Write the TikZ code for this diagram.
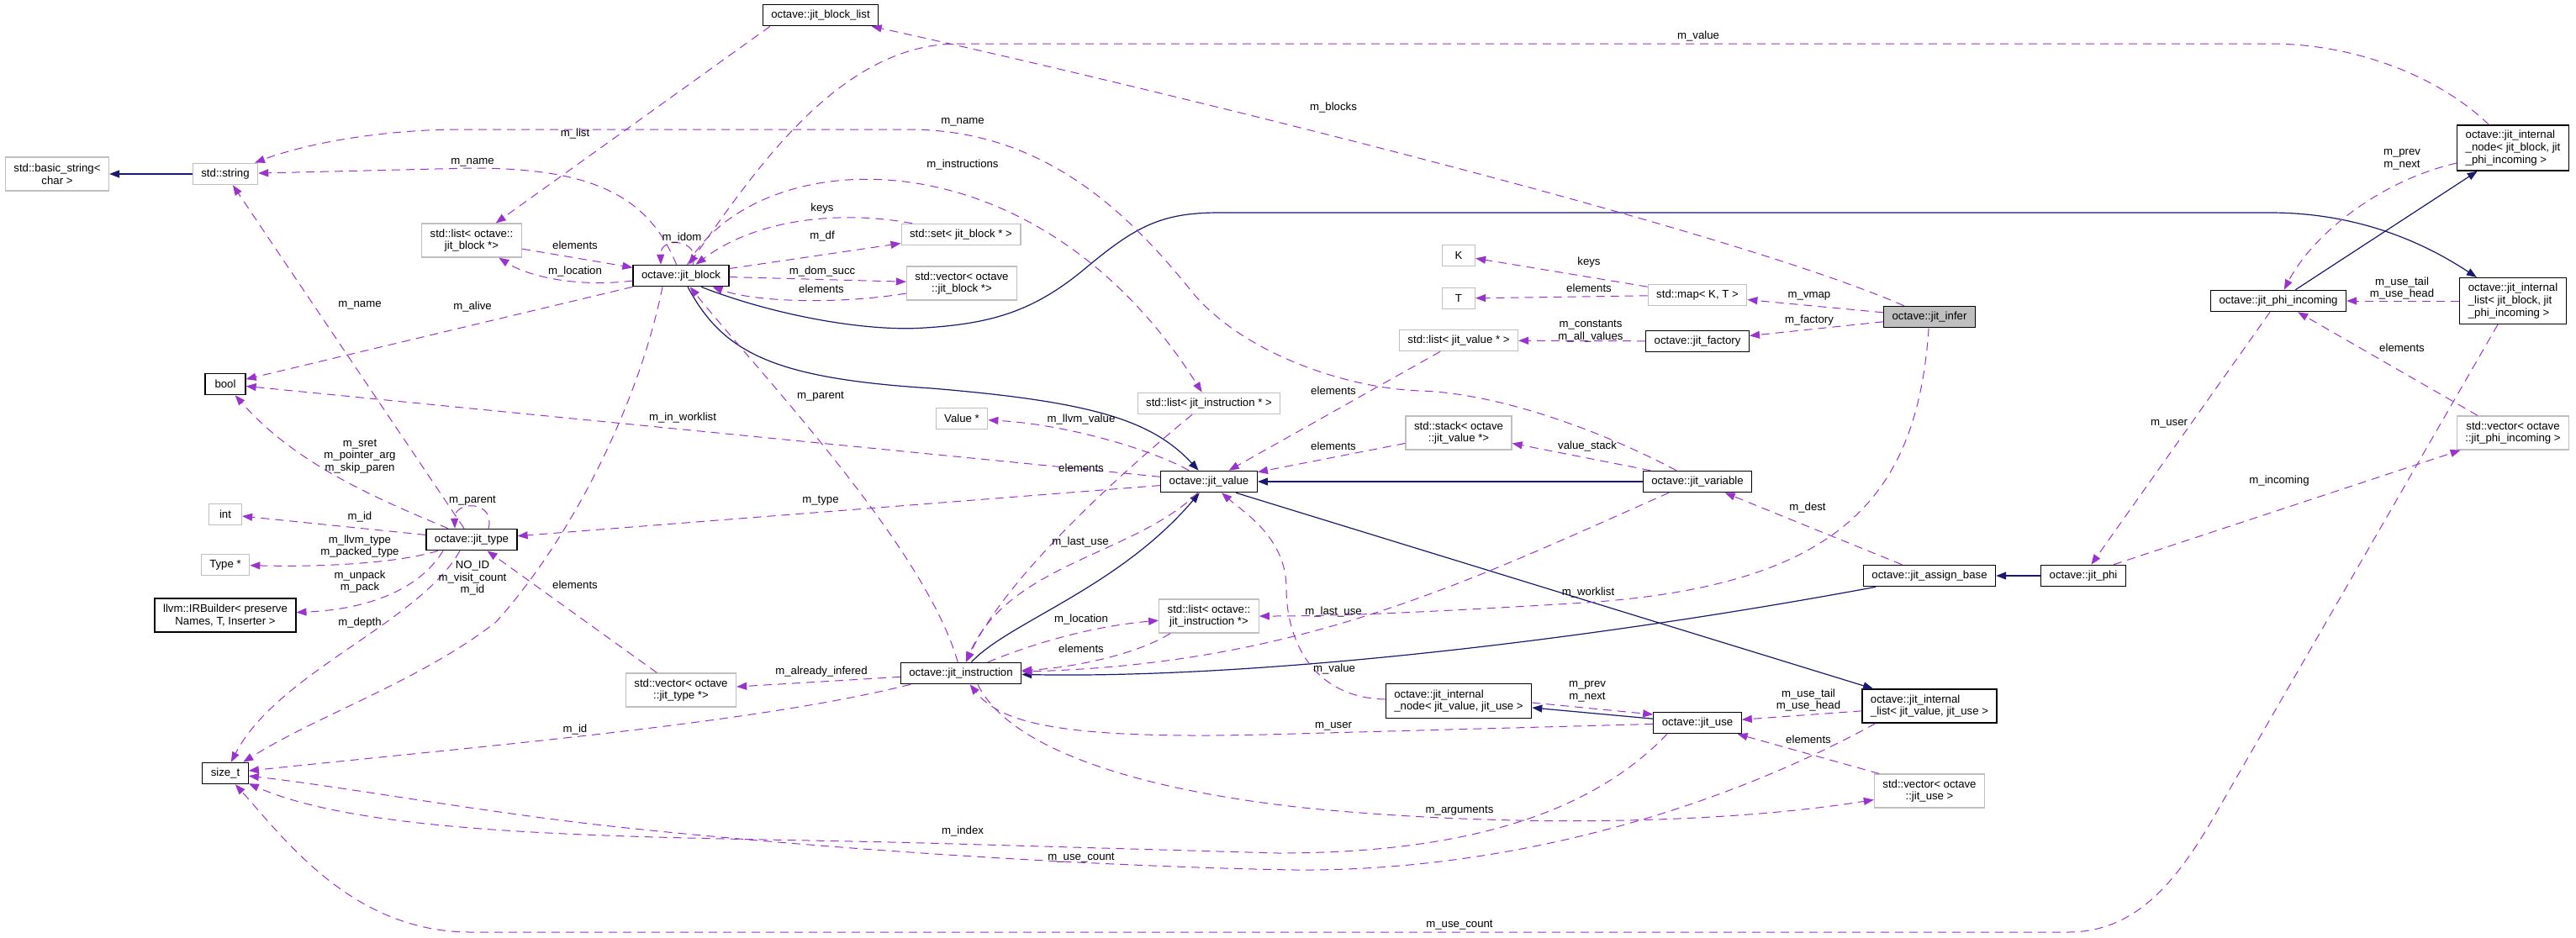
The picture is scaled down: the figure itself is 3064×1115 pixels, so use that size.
\documentclass[tikz,border=0pt]{standalone}
\usepackage{fontspec}
\setmainfont{Liberation Sans}
\usetikzlibrary{arrows.meta}
\definecolor{usepurple}{RGB}{154, 50, 205}
\definecolor{inhnavy}{RGB}{25, 25, 112}
\definecolor{extgray}{RGB}{191, 191, 191}
\newcommand{\nfont}{\fontsize{6.6}{7.3}\selectfont}

\begin{document}
\begin{tikzpicture}[x=0.5pt, y=-0.5pt,
  cnode/.style={draw=black, fill=white, line width=0.6pt, font=\nfont, inner xsep=5pt, inner ysep=1pt, minimum height=12.7pt, align=center},
  tnode/.style={cnode, draw=extgray},
  uarr/.style={-{Triangle[length=6pt,width=4.5pt]}, usepurple, line width=0.5pt, dash pattern=on 5pt off 3.5pt},
  iarr/.style={-{Triangle[length=6pt,width=4.5pt]}, inhnavy, line width=0.6pt},
  elab/.style={font=\nfont, inner sep=0pt, align=center}
]
  \path[use as bounding box, fill=white] (0,0) rectangle (3064,1115);

  \node[tnode, minimum height=20pt] (bstr) at (68,207) {std::basic\_string<\\char >};
  \node[tnode] (str) at (268,207) {std::string};
  \node[tnode, minimum height=20pt] (lblk) at (561,286) {std::list< octave::\\jit\_block *>};
  \node[cnode] (blk) at (810,328) {octave::jit\_block};
  \node[cnode] (blist) at (976,18) {octave::jit\_block\_list};
  \node[tnode] (bset) at (1143,279) {std::set< jit\_block * >};
  \node[tnode, minimum height=20pt] (vblk) at (1144,337) {std::vector< octave\\::jit\_block *>};
  \node[tnode, minimum width=19.5pt] (K) at (1735,304) {K};
  \node[tnode, minimum width=19.5pt] (T) at (1735,355) {T};
  \node[tnode] (map) at (2019,351) {std::map< K, T >};
  \node[cnode, fill=extgray] (infer) at (2295,377) {octave::jit\_infer};
  \node[cnode, minimum height=27pt, align=left] (inodeb) at (2989,176) {octave::jit\_internal\\\_node< jit\_block, jit\\\_phi\_incoming >};
  \node[cnode] (phiin) at (2710,358) {octave::jit\_phi\_incoming};
  \node[cnode, minimum height=27.5pt, align=left] (ilistb) at (2989,358) {octave::jit\_internal\\\_list< jit\_block, jit\\\_phi\_incoming >};
  \node[cnode, minimum width=24pt] (bool) at (268,457) {bool};
  \node[tnode, minimum width=19.5pt] (int) at (268,612) {int};
  \node[tnode] (typep) at (268,672) {Type *};
  \node[cnode, minimum height=20pt] (irb) at (268,732) {llvm::IRBuilder< preserve\\Names, T, Inserter >};
  \node[cnode] (jtype) at (561,642) {octave::jit\_type};
  \node[tnode] (valp) at (1144,498) {Value *};
  \node[tnode] (linstr) at (1438,480) {std::list< jit\_instruction * >};
  \node[cnode] (jval) at (1438,573) {octave::jit\_value};
  \node[tnode, minimum height=20pt] (linstr2) at (1438,733) {std::list< octave::\\jit\_instruction *>};
  \node[tnode] (lval) at (1735,405) {std::list< jit\_value * >};
  \node[cnode] (fact) at (2019,406) {octave::jit\_factory};
  \node[tnode, minimum height=20pt] (stack) at (1735,515) {std::stack< octave\\::jit\_value *>};
  \node[cnode] (var) at (2019,573) {octave::jit\_variable};
  \node[cnode] (asgn) at (2295,685) {octave::jit\_assign\_base};
  \node[cnode] (phi) at (2478,685) {octave::jit\_phi};
  \node[tnode, minimum height=20pt] (vphi) at (2989,515) {std::vector< octave\\::jit\_phi\_incoming >};
  \node[cnode] (sizet) at (268,920) {size\_t};
  \node[tnode, minimum height=20pt] (vtype) at (810,821) {std::vector< octave\\::jit\_type *>};
  \node[cnode] (instr) at (1143,801) {octave::jit\_instruction};
  \node[cnode, minimum height=20.5pt, align=left] (inodev) at (1735,834) {octave::jit\_internal\\\_node< jit\_value, jit\_use >};
  \node[cnode] (use) at (2019,860) {octave::jit\_use};
  \node[cnode, minimum height=20pt, align=left] (ilistv) at (2295,840) {octave::jit\_internal\\\_list< jit\_value, jit\_use >};
  \node[tnode, minimum height=20pt] (vuse) at (2295,941) {std::vector< octave\\::jit\_use >};

  \draw[iarr] (str) -- (bstr);
  \draw[iarr] ([xshift=4pt]blk.south) .. controls (860,420) and (920,450) .. (1108,462) .. controls (1300,478) and (1370,500) .. (jval);
  \draw[iarr] ([xshift=12pt]blk.south) .. controls (920,375) and (1030,395) .. (1100,390) .. controls (1180,385) and (1230,370) .. (1290,320) .. controls (1350,270) and (1380,253) .. (1450,253) -- (2700,253) .. controls (2820,253) and (2900,300) .. (ilistb);
  \draw[iarr] (phiin) -- (inodeb);
  \draw[iarr] (var) -- (jval);
  \draw[iarr] (instr) .. controls (1200,740) and (1330,700) .. (jval);
  \draw[iarr] ([xshift=-32pt]asgn.south) .. controls (1900,760) and (1500,808) .. (instr);
  \draw[iarr] (phi) -- (asgn);
  \draw[iarr] (use) -- (inodev);
  \draw[iarr] ([xshift=16pt]jval.south) -- (ilistv);

  \draw[uarr] (blk) .. controls (770,230) and (700,200) .. (560,200) -- (str);
  \draw[uarr] (jtype) -- (str);
  \draw[uarr] (var) .. controls (1900,510) and (1780,468) .. (1690,465) .. controls (1600,462) and (1480,420) .. (1420,350) .. controls (1340,250) and (1240,154) .. (1080,154) -- (550,154) .. controls (450,154) and (360,172) .. (str);
  \draw[uarr] ([xshift=-30pt]blist.south) -- (lblk);
  \draw[uarr] (lblk) -- (blk);
  \draw[uarr] ([yshift=-3pt]blk.west) .. controls (690,342) and (630,330) .. (lblk);
  \draw[uarr] (blk.south west) -- (bool);
  \draw[uarr] (infer) .. controls (2050,270) and (1350,100) .. (blist);
  \draw[uarr] (inodeb) .. controls (2900,90) and (2800,52) .. (2700,52) -- (1140,52) .. controls (1000,52) and (900,200) .. (blk);
  \draw[uarr] ([xshift=7pt]blk.north) .. controls (835,285) and (785,280) .. ([xshift=-12pt]blk.north);
  \draw[uarr] (blk) -- (bset);
  \draw[uarr] ([xshift=-29pt]bset.north) .. controls (1000,250) and (900,260) .. (blk);
  \draw[uarr] (blk) -- (vblk);
  \draw[uarr] ([yshift=-6pt]vblk.west) .. controls (1000,362) and (900,360) .. (blk);
  \draw[uarr] (blk) .. controls (900,170) and (1230,150) .. (linstr);
  \draw[uarr] (map) -- (K);
  \draw[uarr] (map) -- (T);
  \draw[uarr] (infer) -- (map);
  \draw[uarr] (infer) -- (fact);
  \draw[uarr] (fact) -- (lval);
  \draw[uarr] ([xshift=-11pt]lval.south) -- (jval);
  \draw[uarr] ([xshift=-28pt]var.north) -- (stack);
  \draw[uarr] (stack) -- (jval);
  \draw[uarr] (asgn) -- (var);
  \draw[uarr] (infer) .. controls (2280,600) and (2180,700) .. (1870,718) .. controls (1700,728) and (1600,733) .. (linstr2);
  \draw[uarr] (inodev) .. controls (1560,830) and (1530,760) .. (1530,700) .. controls (1530,640) and (1480,610) .. (jval);
  \draw[uarr] (jval) .. controls (1350,660) and (1200,670) .. (instr);
  \draw[uarr] ([xshift=-10pt]linstr.south) .. controls (1300,590) and (1190,700) .. (instr);
  \draw[uarr] (instr) .. controls (1100,650) and (900,440) .. (blk);
  \draw[uarr] (instr) .. controls (1230,765) and (1300,745) .. (linstr2);
  \draw[uarr] ([xshift=-23pt]linstr2.south) .. controls (1350,780) and (1270,795) .. (instr);
  \draw[uarr] ([xshift=-17pt]var.south) .. controls (1750,690) and (1550,790) .. (instr);
  \draw[uarr] (jval) -- (bool);
  \draw[uarr] (jval) -- (jtype);
  \draw[uarr] (jval) .. controls (1370,535) and (1270,505) .. (valp);
  \draw[uarr] ([xshift=-14pt]jtype.north) .. controls (440,590) and (350,550) .. (bool);
  \draw[uarr] ([xshift=10pt]jtype.north) .. controls (590,595) and (540,595) .. ([xshift=-10pt]jtype.north);
  \draw[uarr] (jtype) -- (int);
  \draw[uarr] ([xshift=-20pt]jtype.south) .. controls (480,668) and (400,675) .. (typep);
  \draw[uarr] ([xshift=-17pt]jtype.south) .. controls (500,700) and (440,725) .. (irb);
  \draw[uarr] ([xshift=-7pt]jtype.south) .. controls (500,740) and (330,800) .. (sizet);
  \draw[uarr] ([xshift=-11pt]blk.south) .. controls (760,480) and (680,640) .. (590,740) .. controls (500,810) and (380,850) .. (sizet);
  \draw[uarr] (vtype) -- (jtype);
  \draw[uarr] (instr) -- (vtype);
  \draw[uarr] ([xshift=-30pt]instr.south) .. controls (900,860) and (600,885) .. (sizet);
  \draw[uarr] ([xshift=-18pt]use.south) .. controls (1900,960) and (1760,1015) .. (1520,1015) -- (1100,1003) .. controls (800,995) and (450,1000) .. (sizet);
  \draw[uarr] ([xshift=-32pt]ilistv.south) .. controls (2050,960) and (1800,1037) .. (1540,1035) .. controls (1250,1030) and (900,1003) .. (700,980) .. controls (550,962) and (400,935) .. (sizet);
  \draw[uarr] ([xshift=-9pt]ilistb.south) -- (2640,960) .. controls (2590,1050) and (2540,1109) .. (2460,1109) -- (560,1109) .. controls (420,1109) and (340,1000) .. (sizet);
  \draw[uarr] (use) -- (1540,873) .. controls (1260,882) and (1190,860) .. (instr);
  \draw[uarr] ([xshift=10pt]instr.south) .. controls (1200,890) and (1350,940) .. (1560,962) .. controls (1800,985) and (2050,980) .. (vuse);
  \draw[uarr] ([yshift=-1pt]inodev.east) -- ([yshift=5pt]use.west);
  \draw[uarr] (ilistv) -- (use);
  \draw[uarr] ([xshift=-30pt]vuse.north) -- (use);
  \draw[uarr] ([yshift=-9pt]inodeb.west) .. controls (2830,215) and (2750,280) .. (phiin);
  \draw[uarr] (ilistb) -- (phiin);
  \draw[uarr] ([xshift=-5pt]phiin.south) -- (phi);
  \draw[uarr] ([xshift=-21pt]vphi.north) -- (phiin);
  \draw[uarr] ([xshift=18pt]phi.north) -- (vphi);

  \node[elab] (l1) at (684,159) {m\_list};
  \node[elab] (l2) at (562,193) {m\_name};
  \node[elab] (l3) at (684,292) {elements};
  \node[elab] (l4) at (684,323) {m\_location};
  \node[elab] (l5) at (562,365) {m\_alive};
  \node[elab] (l6) at (428,363) {m\_name};
  \node[elab] (l7) at (1586,128) {m\_blocks};
  \node[elab] (l8) at (2020,43) {m\_value};
  \node[elab] (l9) at (1145,145) {m\_name};
  \node[elab] (l10) at (1145,196) {m\_instructions};
  \node[elab] (l11) at (978,248) {keys};
  \node[elab] (l12) at (811,283) {m\_idom};
  \node[elab] (l13) at (978,281) {m\_df};
  \node[elab] (l14) at (978,323) {m\_dom\_succ};
  \node[elab] (l15) at (977,344) {elements};
  \node[elab] (l16) at (1890,312) {keys};
  \node[elab] (l17) at (1890,343) {elements};
  \node[elab] (l18) at (2152,352) {m\_vmap};
  \node[elab] (l19) at (2152,381) {m\_factory};
  \node[elab] (l20) at (2857,190) {m\_prev\\m\_next};
  \node[elab] (l21) at (2857,343) {m\_use\_tail\\m\_use\_head};
  \node[elab] (l22) at (428,543) {m\_sret\\m\_pointer\_arg\\m\_skip\_paren};
  \node[elab] (l23) at (562,596) {m\_parent};
  \node[elab] (l24) at (428,615) {m\_id};
  \node[elab] (l25) at (428,650) {m\_llvm\_type\\m\_packed\_type};
  \node[elab] (l26) at (428,692) {m\_unpack\\m\_pack};
  \node[elab] (l27) at (562,688) {NO\_ID\\m\_visit\_count\\m\_id};
  \node[elab] (l28) at (428,741) {m\_depth};
  \node[elab] (l29) at (684,696) {elements};
  \node[elab] (l30) at (976,472) {m\_parent};
  \node[elab] (l31) at (812,497) {m\_in\_worklist};
  \node[elab] (l32) at (1286,499) {m\_llvm\_value};
  \node[elab] (l33) at (1286,557) {elements};
  \node[elab] (l34) at (976,596) {m\_type};
  \node[elab] (l35) at (1285,645) {m\_last\_use};
  \node[elab] (l36) at (1286,737) {m\_location};
  \node[elab] (l37) at (1286,772) {elements};
  \node[elab] (l38) at (977,799) {m\_already\_infered};
  \node[elab] (l39) at (1892,394) {m\_constants\\m\_all\_values};
  \node[elab] (l40) at (1586,465) {elements};
  \node[elab] (l41) at (1586,531) {elements};
  \node[elab] (l42) at (1888,531) {value\_stack};
  \node[elab] (l43) at (2150,604) {m\_dest};
  \node[elab] (l44) at (1889,705) {m\_worklist};
  \node[elab] (l45) at (1586,728) {m\_last\_use};
  \node[elab] (l46) at (1587,796) {m\_value};
  \node[elab] (l47) at (1888,823) {m\_prev\\m\_next};
  \node[elab] (l48) at (2151,833) {m\_use\_tail\\m\_use\_head};
  \node[elab] (l49) at (1586,864) {m\_user};
  \node[elab] (l50) at (2151,880) {elements};
  \node[elab] (l51) at (1736,965) {m\_arguments};
  \node[elab] (l52) at (684,868) {m\_id};
  \node[elab] (l53) at (1145,989) {m\_index};
  \node[elab] (l54) at (1286,1021) {m\_use\_count};
  \node[elab] (l55) at (1736,1101) {m\_use\_count};
  \node[elab] (l56) at (2580,504) {m\_user};
  \node[elab] (l57) at (2857,414) {elements};
  \node[elab] (l58) at (2711,572) {m\_incoming};
\end{tikzpicture}
\end{document}
